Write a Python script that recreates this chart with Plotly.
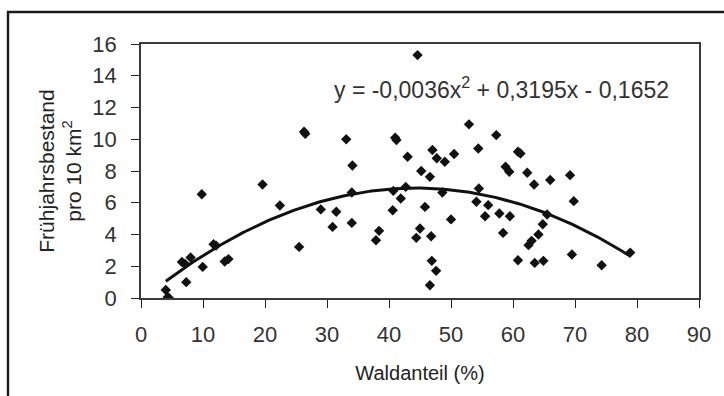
import numpy as np
import plotly.graph_objects as go

# Data (Waldanteil % vs. Frühjahrsbestand pro 10 km²)
wald = [4.0, 4.3, 4.5, 6.6, 7.1, 7.3, 8.0, 9.8, 9.95, 11.7, 12.1, 13.5, 14.1,
        19.6, 22.4, 25.5, 26.3, 26.5, 29.0, 30.9, 31.5, 33.1, 34.1, 34.0, 34.0,
        37.9, 38.4, 40.6, 40.7, 41.0, 41.2, 41.9, 42.7, 43.0, 44.4, 44.6, 45.0,
        45.2, 45.8, 46.6, 47.0, 47.7, 49.0, 46.8, 46.9, 47.6, 46.6, 48.6, 50.0,
        50.5, 52.9, 54.4, 54.5, 54.1, 55.5, 56.0, 57.3, 57.8, 58.4, 58.8, 59.4,
        59.5, 60.8, 61.2, 60.8, 62.3, 62.5, 63.0, 63.4, 63.5, 64.1, 64.8, 64.9,
        65.5, 66.0, 69.2, 69.5, 69.8, 74.3, 78.9]
bestand = [0.5, 0.05, 0.0, 2.27, 2.15, 1.0, 2.55, 6.54, 1.96, 3.39, 3.3, 2.3, 2.45,
           7.15, 5.83, 3.22, 10.47, 10.35, 5.58, 4.48, 5.43, 10.0, 8.35, 6.65, 4.73,
           3.64, 4.23, 5.53, 6.75, 10.1, 9.95, 6.27, 7.0, 8.9, 3.79, 15.3, 4.38,
           8.0, 5.74, 7.63, 9.32, 8.8, 8.58, 3.89, 2.34, 1.71, 0.8, 6.65, 4.95,
           9.07, 10.94, 9.42, 6.9, 6.06, 5.15, 5.85, 10.26, 5.32, 4.1, 8.27, 7.95,
           5.15, 9.21, 9.1, 2.38, 7.89, 3.33, 3.6, 7.15, 2.21, 4.0, 4.65, 2.34,
           5.26, 7.43, 7.74, 2.74, 6.1, 2.06, 2.86]

# Trendline as printed on the chart: y = a x^2 + b x + c
trend_coef = [-0.0036, 0.3195, -0.1652]
trend_range = [4.0, 79.0]

x_ticks = [0, 10, 20, 30, 40, 50, 60, 70, 80, 90]
y_ticks = [0, 2, 4, 6, 8, 10, 12, 14, 16]

tx = np.linspace(trend_range[0], trend_range[1], 200)
ty = np.polyval(trend_coef, tx)

FONT = "Liberation Sans, Arial, sans-serif"
AX = "#3a3a3a"

fig = go.Figure()
fig.add_trace(go.Scatter(x=tx, y=ty, mode="lines",
                         line=dict(color="#111111", width=3),
                         hoverinfo="skip", showlegend=False))
fig.add_trace(go.Scatter(x=wald, y=bestand, mode="markers",
                         marker=dict(symbol="diamond", size=8, color="#111111",
                                     line=dict(width=0)),
                         showlegend=False))

W, H = 724, 396
L, R, T, B = 141, 25, 44, 98
pw, ph = W - L - R, H - T - B

def px(xp):
    return (xp - L) / pw

def py(yp):
    return (H - B - yp) / ph

common = dict(showgrid=False, zeroline=False, showline=True, linecolor=AX,
              linewidth=1.5, mirror=True, ticks="outside", ticklen=8,
              tickwidth=1.3, tickcolor="#222222")

fig.update_layout(
    width=W, height=H,
    margin=dict(l=L, r=R, t=T, b=B, autoexpand=False),
    paper_bgcolor="white", plot_bgcolor="white",
    font=dict(family=FONT, color="#222222"),
    xaxis=dict(range=[0, 90], tickvals=x_ticks, ticktext=[str(v) for v in x_ticks],
               tickfont=dict(size=22, color="#333333"), ticklabelstandoff=8,
               title=dict(text="Waldanteil (%)", font=dict(size=20, color="#222222"),
                          standoff=20),
               **common),
    yaxis=dict(range=[0, 16], tickvals=y_ticks, ticktext=[str(v) for v in y_ticks],
               tickfont=dict(size=22, color="#333333"), ticklabelstandoff=10,
               title=dict(text="Frühjahrsbestand<br>pro 10 km<sup>2</sup>",
                          font=dict(size=21, color="#222222"), standoff=5),
               **common),
    xaxis2=dict(range=[0, 90], overlaying="x", anchor="y", side="bottom",
                tickvals=x_ticks, ticks="inside", ticklen=7, tickwidth=1.3,
                tickcolor="#222222", showticklabels=False, showgrid=False,
                zeroline=False, showline=False),
    yaxis2=dict(range=[0, 16], overlaying="y", anchor="x", side="left",
                tickvals=y_ticks, ticks="inside", ticklen=7, tickwidth=1.3,
                tickcolor="#222222", showticklabels=False, showgrid=False,
                zeroline=False, showline=False),
    annotations=[dict(
        text="y = -0,0036x<sup>2</sup> + 0,3195x - 0,1652",
        xref="paper", yref="paper", x=px(501), y=py(88),
        xanchor="center", yanchor="middle", showarrow=False,
        font=dict(family=FONT, size=23, color="#333333"))],
    shapes=[dict(type="rect", xref="paper", yref="paper",
                 x0=px(8), x1=px(740), y0=py(420), y1=py(12),
                 line=dict(color="#1a1a1a", width=2.4), layer="below")],
)

fig.write_html("out.html")
